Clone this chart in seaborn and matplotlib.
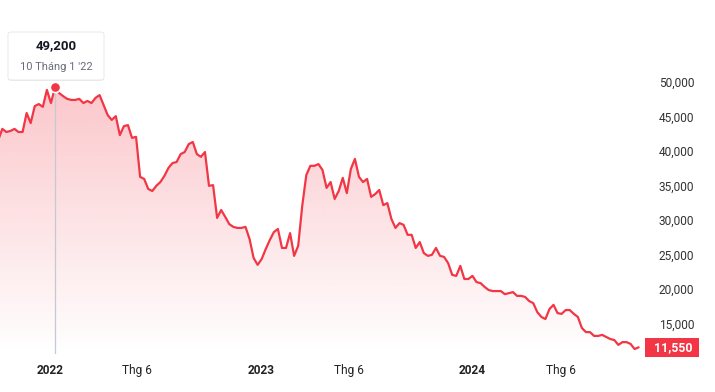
import pandas as pd
import numpy as np
import matplotlib
matplotlib.use("Agg")
import matplotlib.pyplot as plt
import matplotlib.dates as mdates
from matplotlib.patches import FancyBboxPatch, Polygon
import seaborn as sns

# -----------------------------------------
# Data (weekly close)
# -----------------------------------------

start_date = "2021-10-04"

price = [
    41600, 43200, 42750, 42900, 43200, 42750, 42750, 45500, 44050, 46500,
    46800, 46400, 48850, 46950,
    49200, 48400, 47950, 47550, 47400, 47400, 47550, 46950, 47250, 46950,
    47700, 48100, 46650, 45200, 44500, 45050, 42300, 43600, 43750, 41900,
    42050, 36250, 35950, 34500, 34200, 34950, 35500, 36400, 37550, 38250,
    38400, 39550, 39850, 41000, 41300, 39550, 39150, 39850, 34950, 35050,
    30300, 31450, 30450, 29400, 29000, 28850, 28850, 29000, 27250, 24500,
    23500, 24350, 25800, 27100, 28250, 28700, 25950, 25950, 28100, 24800,
    26250, 32050, 36500, 37850, 37850, 38100, 37250, 34650, 35500, 33050,
    34200, 36100, 33900, 37400, 38850, 36250, 35500, 35950, 33350, 33750,
    34350, 32150, 32450, 30150, 28850, 29550, 29300, 27850, 27850, 25950,
    26800, 25200, 24800, 24950, 25950, 24800, 24650, 23750, 22050, 21900,
    23350, 21450, 21450, 21900, 21000, 20850, 20300, 19850, 19700, 19700,
    19700, 19250, 19400, 19550, 19000, 19000, 18850, 18250, 17950, 16650,
    15950, 15650, 17100, 17700, 16500, 16400, 16950, 16950, 16400, 15950,
    14350, 13750, 13750, 13200, 13200, 13350, 13050, 12750, 12600, 11900,
    12300, 12300, 12050, 11300, 11550,
]

y_ticks = [15000, 20000, 25000, 30000, 35000, 40000, 45000, 50000]
x_tick_dates = ["2022-01-01", "2022-06-01", "2023-01-01", "2023-06-01",
                "2024-01-01", "2024-06-01"]
x_tick_labels = ["2022", "Thg 6", "2023", "Thg 6", "2024", "Thg 6"]
x_tick_bold = [True, False, True, False, True, False]

hover_date = "2022-01-10"
hover_price = 49200
hover_label = "10 Tháng 1 '22"
last_label = "11,550"

df = pd.DataFrame({
    "date": pd.date_range(start_date, periods=len(price), freq="7D"),
    "price": price,
})

RED = "#f23645"

# -----------------------------------------
# Figure
# -----------------------------------------

sns.set_style("white")
plt.rcParams["font.family"] = ["Roboto", "DejaVu Sans"]

fig = plt.figure(figsize=(7.15, 3.92), dpi=100)
ax = fig.add_axes([0.0, 38 / 392, 645 / 715, 354 / 392])

sns.lineplot(data=df, x="date", y="price", color=RED, linewidth=1.6, ax=ax)

ylo, yhi = 10580, 61880
x0 = pd.Timestamp("2021-10-07")
x1 = pd.Timestamp("2024-10-25")
ax.set_ylim(ylo, yhi)
ax.set_xlim(x0, x1)

# gradient area under the line
xn = mdates.date2num(df["date"])
verts = [(xn[0], ylo)] + list(zip(xn, df["price"])) + [(xn[-1], ylo)]
poly = Polygon(verts, closed=True, facecolor="none", edgecolor="none")
ax.add_patch(poly)
grad = np.zeros((256, 1, 4))
grad[:, 0, 0] = 242 / 255
grad[:, 0, 1] = 54 / 255
grad[:, 0, 2] = 69 / 255
grad[:, 0, 3] = np.linspace(0.30, 0.0, 256)
img = ax.imshow(grad, extent=[mdates.date2num(x0), mdates.date2num(x1), ylo, 52000],
                aspect="auto", origin="upper", zorder=1)
img.set_clip_path(poly)
ax.set_ylim(ylo, yhi)

# hover line + marker
hd = pd.Timestamp(hover_date)
ax.plot([hd, hd], [ylo, hover_price], color="#c5c9d1", linewidth=0.9, zorder=2)
ax.scatter([hd], [hover_price], s=55, color=RED, edgecolor="white",
           linewidth=1.2, zorder=5)

# axes styling
sns.despine(ax=ax, left=True, bottom=True, right=True, top=True)
ax.set_xlabel("")
ax.set_ylabel("")
ax.yaxis.tick_right()
ax.set_yticks(y_ticks)
ax.set_yticklabels([f"{v:,}" for v in y_ticks])
ax.tick_params(axis="y", length=0, pad=10, labelsize=8.6, labelcolor="#333333")

ax.set_xticks(pd.to_datetime(x_tick_dates))
ax.set_xticklabels(x_tick_labels)
ax.tick_params(axis="x", length=0, pad=7, labelsize=8.6, labelcolor="#222222")
for lab, b in zip(ax.get_xticklabels(), x_tick_bold):
    if b:
        lab.set_fontweight("bold")

# last price tag
ax.text(1.005, df["price"].iloc[-1], "  " + last_label + " ",
        transform=ax.get_yaxis_transform(), ha="left", va="center",
        fontsize=8.8, fontweight="bold", color="white",
        bbox=dict(boxstyle="square,pad=0.25", facecolor=RED, edgecolor="none"))

# tooltip
shadow = FancyBboxPatch((8 / 715, (392 - 81) / 392), 96 / 715, 48 / 392,
                        boxstyle="round,pad=0,rounding_size=0.006",
                        transform=fig.transFigure, facecolor="#000000",
                        alpha=0.08, edgecolor="none", zorder=8)
box = FancyBboxPatch((8 / 715, (392 - 80) / 392), 96 / 715, 48 / 392,
                     boxstyle="round,pad=0,rounding_size=0.006",
                     transform=fig.transFigure, facecolor="white",
                     edgecolor="#e6e6e6", linewidth=0.6, zorder=9)
fig.patches.extend([shadow, box])
fig.text(56 / 715, 1 - 46 / 392, f"{hover_price:,}", ha="center", va="center",
         fontsize=9.5, fontweight="bold", color="#131722", zorder=10)
fig.text(56 / 715, 1 - 67 / 392, hover_label, ha="center", va="center",
         fontsize=8, color="#6a6d78", zorder=10)

fig.savefig("out.png", dpi=100)
